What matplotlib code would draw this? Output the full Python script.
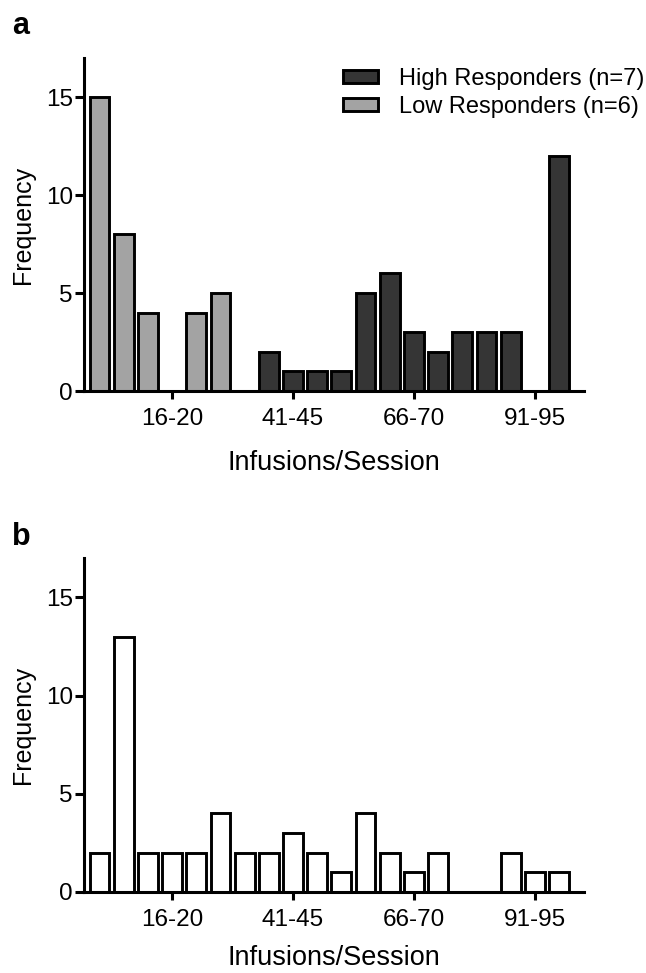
import matplotlib
matplotlib.use("Agg")
import matplotlib.pyplot as plt
import numpy as np

# ---- data ----
bin_labels = [f"{1+5*i}-{5+5*i}" for i in range(20)]
tick_labels = ["16-20", "41-45", "66-70", "91-95"]
high_resp = [0, 0, 0, 0, 0, 0, 0, 2, 1, 1, 1, 5, 6, 3, 2, 3, 3, 3, 0, 12]
low_resp = [15, 8, 4, 0, 4, 5, 0, 0, 0, 0, 0, 0, 0, 0, 0, 0, 0, 0, 0, 0]
all_resp = [2, 13, 2, 2, 2, 4, 2, 2, 3, 2, 1, 4, 2, 1, 2, 0, 0, 2, 1, 1]
y_ticks = [0, 5, 10, 15]

plt.rcParams['font.family'] = ['Liberation Sans', 'DejaVu Sans']

W, H = 646, 973
fig = plt.figure(figsize=(W / 100, H / 100), dpi=100)

def px_axes(left, top, right, bottom):
    return fig.add_axes([left / W, 1 - bottom / H, (right - left) / W, (bottom - top) / H])

ax_a = px_axes(84, 58, 584, 391)
ax_b = px_axes(84, 558, 584, 892)

x = np.arange(len(bin_labels))
tick_idx = [bin_labels.index(t) for t in tick_labels]

dark = '#353535'
light = '#a3a3a3'
lw = 2.1
bw = 0.82

def style(ax, labelpad):
    ax.set_xlim(-0.64, 20.03)
    ax.set_ylim(0, 17)
    for s in ['top', 'right']:
        ax.spines[s].set_visible(False)
    for s in ['left', 'bottom']:
        ax.spines[s].set_linewidth(2.2)
    ax.set_yticks(y_ticks)
    ax.set_xticks(tick_idx)
    ax.set_xticklabels(tick_labels)
    ax.tick_params(axis='y', length=6.5, width=2.2, pad=1.5, labelsize=17.5)
    ax.tick_params(axis='x', length=6.0, width=2.2, pad=6.5, labelsize=17.5)
    ax.set_xlabel("Infusions/Session", fontsize=19.5, labelpad=labelpad)
    ax.set_ylabel("Frequency", fontsize=18, labelpad=8)

# panel a
hi_mask = np.array(high_resp) > 0
lo_mask = np.array(low_resp) > 0
ax_a.bar(x[hi_mask], np.array(high_resp)[hi_mask], width=bw, color=dark,
         edgecolor='black', linewidth=lw, label='High Responders (n=7)')
ax_a.bar(x[lo_mask], np.array(low_resp)[lo_mask], width=bw, color=light,
         edgecolor='black', linewidth=lw, label='Low Responders (n=6)')
style(ax_a, 14)
fig.legend(loc='upper left', bbox_to_anchor=(343 / W, 1 - 68 / H), frameon=False,
           fontsize=17, handlelength=1.48, handleheight=0.42, handletextpad=0.9,
           labelspacing=0.25, borderpad=0, borderaxespad=0)

# panel b
all_mask = np.array(all_resp) > 0
ax_b.bar(x[all_mask], np.array(all_resp)[all_mask], width=bw, color='white',
         edgecolor='black', linewidth=lw)
style(ax_b, 10)

fig.text(12 / W, 1 - 34 / H, "a", fontsize=22, fontweight='bold', ha='left', va='baseline')
fig.text(12 / W, 1 - 545 / H, "b", fontsize=22, fontweight='bold', ha='left', va='baseline')

fig.savefig("out.png", dpi=100)
